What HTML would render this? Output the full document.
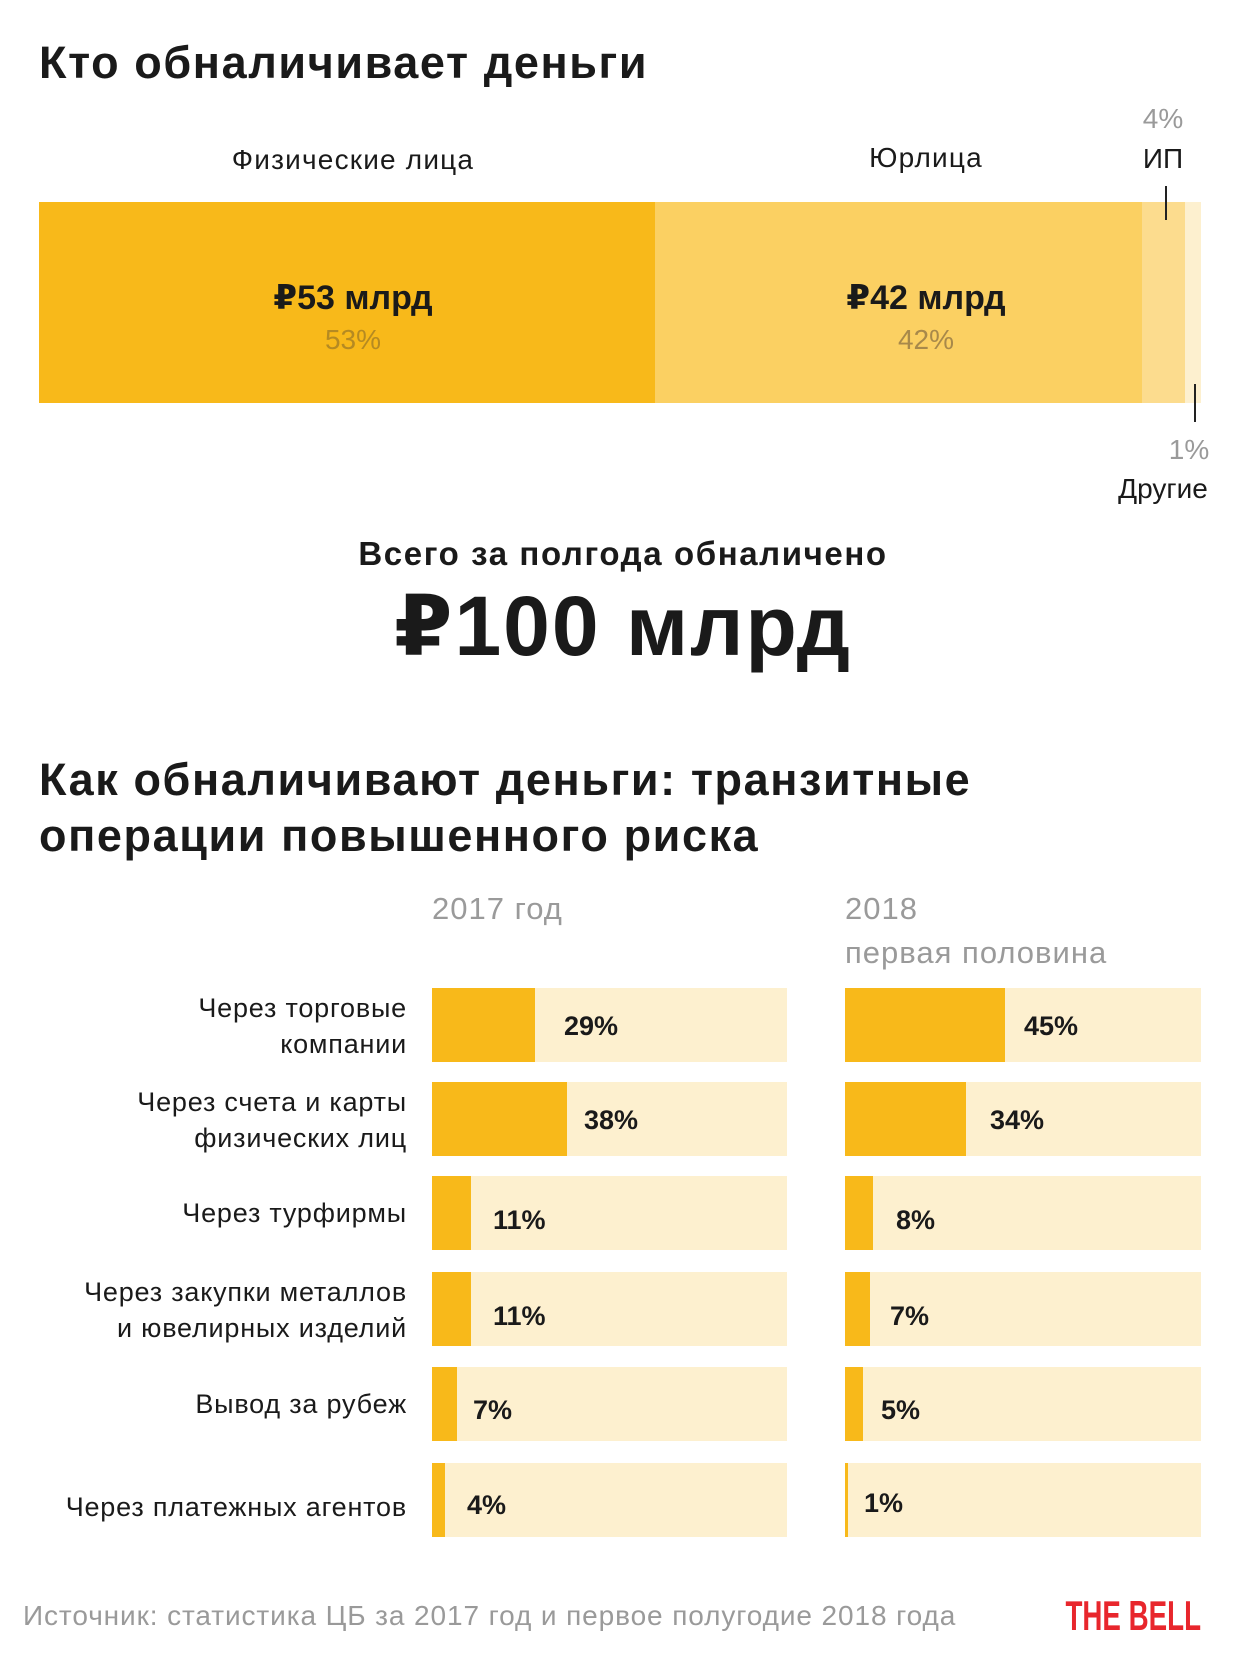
<!DOCTYPE html>
<html><head><meta charset="utf-8"><style>
*{margin:0;padding:0;box-sizing:border-box}
body{width:1240px;height:1660px;background:#fff;position:relative;overflow:hidden;font-family:"Liberation Sans","DejaVu Sans",sans-serif;color:#1a1a1a}
.t{position:absolute;white-space:nowrap;line-height:1}
.c{transform:translateX(-50%)}
.r{transform:translateX(-100%);text-align:right}
.b{font-weight:bold}
.g{color:#9a9a9a}
.box{position:absolute}
.tick{position:absolute;width:2px;background:#222;z-index:5}
.lab{font-size:27px;letter-spacing:0.8px;line-height:36px}
.v{font-size:27px;font-weight:bold}
</style></head><body>
<div class="t b" style="left:39px;top:40px;font-size:45px;letter-spacing:1.6px">Кто обналичивает деньги</div>
<div class="t c" style="left:353px;top:146px;font-size:28px;letter-spacing:1.2px">Физические лица</div>
<div class="t c" style="left:926px;top:144px;font-size:28px;letter-spacing:1.2px">Юрлица</div>
<div class="t c g" style="left:1163px;top:105px;font-size:28px">4%</div>
<div class="t c" style="left:1163px;top:145px;font-size:28px">ИП</div>

<div class="box" style="left:39px;top:202px;width:616px;height:201px;background:#f8b91a"></div>
<div class="box" style="left:655px;top:202px;width:487px;height:201px;background:#fbd062"></div>
<div class="box" style="left:1142px;top:202px;width:43px;height:201px;background:#fcdc8e"></div>
<div class="box" style="left:1185px;top:202px;width:16px;height:201px;background:#fdf0cf"></div>
<div class="tick" style="left:1165px;top:186px;height:34px"></div>
<div class="tick" style="left:1194px;top:384px;height:38px"></div>

<div class="t c b" style="left:353px;top:281px;font-size:34px">₽53 млрд</div>
<div class="t c" style="left:353px;top:326px;font-size:28px;color:#b58a22">53%</div>
<div class="t c b" style="left:926px;top:281px;font-size:34px">₽42 млрд</div>
<div class="t c" style="left:926px;top:326px;font-size:28px;color:#a8894a">42%</div>

<div class="t c g" style="left:1189px;top:436px;font-size:28px">1%</div>
<div class="t c" style="left:1163px;top:475px;font-size:28px">Другие</div>

<div class="t c b" style="left:623px;top:537px;font-size:33px;letter-spacing:1.6px">Всего за полгода обналичено</div>
<div class="t c b" style="left:623px;top:584px;font-size:84px;letter-spacing:2px">₽100 млрд</div>

<div class="t b" style="left:39px;top:757px;font-size:45px;letter-spacing:1.6px">Как обналичивают деньги: транзитные</div>
<div class="t b" style="left:39px;top:813px;font-size:45px;letter-spacing:1.6px">операции повышенного риска</div>

<div class="t g" style="left:432px;top:893px;font-size:31px;letter-spacing:1px">2017 год</div>
<div class="t g" style="left:845px;top:893px;font-size:31px;letter-spacing:1px">2018</div>
<div class="t g" style="left:845px;top:937px;font-size:31px;letter-spacing:1px">первая половина</div>

<div class="box" style="left:432px;top:988px;width:355px;height:74px;background:#fdf0cf"></div>
<div class="box" style="left:432px;top:988px;width:103px;height:74px;background:#f8b91a"></div>
<div class="box" style="left:845px;top:988px;width:356px;height:74px;background:#fdf0cf"></div>
<div class="box" style="left:845px;top:988px;width:160px;height:74px;background:#f8b91a"></div>
<div class="t v" style="left:564px;top:1013px">29%</div>
<div class="t v" style="left:1024px;top:1013px">45%</div>
<div class="t r lab" style="left:407px;top:990px">Через торговые<br>компании</div>

<div class="box" style="left:432px;top:1082px;width:355px;height:74px;background:#fdf0cf"></div>
<div class="box" style="left:432px;top:1082px;width:135px;height:74px;background:#f8b91a"></div>
<div class="box" style="left:845px;top:1082px;width:356px;height:74px;background:#fdf0cf"></div>
<div class="box" style="left:845px;top:1082px;width:121px;height:74px;background:#f8b91a"></div>
<div class="t v" style="left:584px;top:1107px">38%</div>
<div class="t v" style="left:990px;top:1107px">34%</div>
<div class="t r lab" style="left:407px;top:1084px">Через счета и карты<br>физических лиц</div>

<div class="box" style="left:432px;top:1176px;width:355px;height:74px;background:#fdf0cf"></div>
<div class="box" style="left:432px;top:1176px;width:39px;height:74px;background:#f8b91a"></div>
<div class="box" style="left:845px;top:1176px;width:356px;height:74px;background:#fdf0cf"></div>
<div class="box" style="left:845px;top:1176px;width:28px;height:74px;background:#f8b91a"></div>
<div class="t v" style="left:493px;top:1207px">11%</div>
<div class="t v" style="left:896px;top:1207px">8%</div>
<div class="t r lab" style="left:407px;top:1195px">Через турфирмы</div>

<div class="box" style="left:432px;top:1272px;width:355px;height:74px;background:#fdf0cf"></div>
<div class="box" style="left:432px;top:1272px;width:39px;height:74px;background:#f8b91a"></div>
<div class="box" style="left:845px;top:1272px;width:356px;height:74px;background:#fdf0cf"></div>
<div class="box" style="left:845px;top:1272px;width:25px;height:74px;background:#f8b91a"></div>
<div class="t v" style="left:493px;top:1303px">11%</div>
<div class="t v" style="left:890px;top:1303px">7%</div>
<div class="t r lab" style="left:407px;top:1274px">Через закупки металлов<br>и ювелирных изделий</div>

<div class="box" style="left:432px;top:1367px;width:355px;height:74px;background:#fdf0cf"></div>
<div class="box" style="left:432px;top:1367px;width:25px;height:74px;background:#f8b91a"></div>
<div class="box" style="left:845px;top:1367px;width:356px;height:74px;background:#fdf0cf"></div>
<div class="box" style="left:845px;top:1367px;width:18px;height:74px;background:#f8b91a"></div>
<div class="t v" style="left:473px;top:1397px">7%</div>
<div class="t v" style="left:881px;top:1397px">5%</div>
<div class="t r lab" style="left:407px;top:1386px">Вывод за рубеж</div>

<div class="box" style="left:432px;top:1463px;width:355px;height:74px;background:#fdf0cf"></div>
<div class="box" style="left:432px;top:1463px;width:13px;height:74px;background:#f8b91a"></div>
<div class="box" style="left:845px;top:1463px;width:356px;height:74px;background:#fdf0cf"></div>
<div class="box" style="left:845px;top:1463px;width:3px;height:74px;background:#f8b91a"></div>
<div class="t v" style="left:467px;top:1492px">4%</div>
<div class="t v" style="left:864px;top:1490px">1%</div>
<div class="t r lab" style="left:407px;top:1489px">Через платежных агентов</div>

<div class="t g" style="left:23px;top:1602px;font-size:28px;letter-spacing:0.9px">Источник: статистика ЦБ за  2017 год и первое полугодие 2018 года</div>
<div class="t b" style="left:1201px;top:1595px;font-size:42px;color:#e8262c;transform:translateX(-100%) scaleX(0.66);transform-origin:right">THE BELL</div>
</body></html>
